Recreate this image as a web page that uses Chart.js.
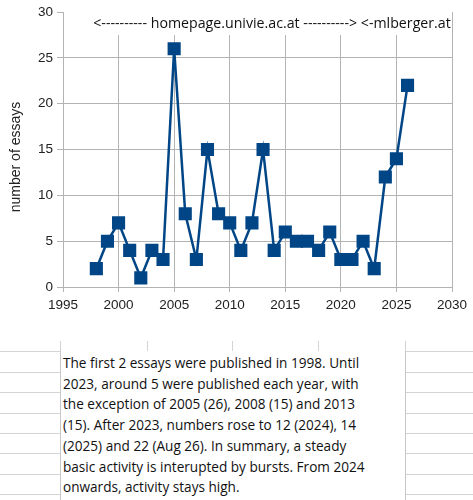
<!DOCTYPE html>
<html>
<head>
<meta charset="utf-8">
<script src="https://cdn.jsdelivr.net/npm/chart.js@4.4.1/dist/chart.umd.min.js"></script>
<style>
  html, body { margin: 0; padding: 0; background: #fff; }
  body { width: 473px; height: 500px; position: relative; overflow: hidden; }
  #chart { position: absolute; left: 0; top: 0; }
  .hl { position: absolute; left: 0; width: 473px; height: 1px; background: #d4d4d4; }
  .vl { position: absolute; top: 341px; width: 1px; height: 159px; background: #d4d4d4; }
  #note {
    position: absolute; left: 60px; top: 351px; width: 346px; height: 160px;
    background: #fff; border-left: 1px solid #c8c8c8; border-right: 1px solid #c8c8c8;
    font-family: "Open Sans", sans-serif; font-size: 13.6px; line-height: 20.7px;
    color: #111; padding: 2px 0 0 2px; box-sizing: border-box; white-space: nowrap;
  }
</style>
</head>
<body>
<canvas id="chart" width="473" height="341"></canvas>
<div id="grid"></div>
<div id="note">The first 2 essays were published in 1998. Until<br>2023, around 5 were published each year, with<br>the exception of 2005 (26), 2008 (15) and 2013<br>(15). After 2023, numbers rose to 12 (2024), 14<br>(2025) and 22 (Aug 26). In summary, a steady<br>basic activity is interupted by bursts. From 2024<br>onwards, activity stays high.</div>
<script>
// data
const years = [1998, 1999, 2000, 2001, 2002, 2003, 2004, 2005, 2006, 2007, 2008, 2009, 2010, 2011, 2012,
               2013, 2014, 2015, 2016, 2017, 2018, 2019, 2020, 2021, 2022, 2023, 2024, 2025, 2026];
const essays = [2, 5, 7, 4, 1, 4, 3, 26, 8, 3, 15, 8, 7, 4, 7,
                15, 4, 6, 5, 5, 4, 6, 3, 3, 5, 2, 12, 14, 22];
const yTitle = 'number of essays';
const banner = '<---------- homepage.univie.ac.at ----------> <-mlberger.at';

// spreadsheet cell lines under the chart
const grid = document.getElementById('grid');
[351, 372, 392, 413, 433, 453, 474, 494].forEach(function (y) {
    const d = document.createElement('div');
    d.className = 'hl';
    d.style.top = y + 'px';
    grid.appendChild(d);
});
[60, 147, 232, 318, 405].forEach(function (x) {
    const d = document.createElement('div');
    d.className = 'vl';
    d.style.left = x + 'px';
    grid.appendChild(d);
});

const gridColor = '#b3b3b3';
const textColor = '#222222';

// white label box with the url banner, and the rotated y title
const extras = {
    id: 'extras',
    beforeDatasetsDraw(chart) {
        const c = chart.ctx;
        c.save();
        c.fillStyle = '#fff';
        c.fillRect(68, 12, 382, 23);
        c.fillStyle = '#111';
        c.font = '14.2px "Open Sans"';
        c.textAlign = 'center';
        c.textBaseline = 'middle';
        c.fillText(banner, 272, 24);
        c.restore();
    },
    afterDraw(chart) {
        const c = chart.ctx;
        c.save();
        c.translate(16, 157);
        c.rotate(-Math.PI / 2);
        c.fillStyle = textColor;
        c.font = '14px "Liberation Sans"';
        c.textAlign = 'center';
        c.textBaseline = 'middle';
        c.fillText(yTitle, 0, 0);
        c.restore();
    }
};

const points = years.map((y, i) => ({ x: y, y: essays[i] }));

new Chart(document.getElementById('chart'), {
    type: 'line',
    data: {
        datasets: [{
            data: points,
            borderColor: '#004586',
            backgroundColor: '#004586',
            borderWidth: 2.5,
            pointStyle: 'rect',
            pointRadius: 7.5,
            pointHoverRadius: 7.5,
            tension: 0
        }]
    },
    options: {
        responsive: false,
        animation: false,
        layout: { padding: { left: 0, right: 21, top: 8, bottom: 0 } },
        plugins: { legend: { display: false }, tooltip: { enabled: false } },
        scales: {
            x: {
                type: 'linear',
                min: 1995,
                max: 2030,
                ticks: { stepSize: 5, color: textColor, font: { family: 'Liberation Sans', size: 13.5 }, padding: 5,
                         callback: v => String(v), maxRotation: 0 },
                grid: { color: gridColor, tickLength: 5 },
                border: { color: gridColor },
                afterFit: s => { s.height = 54; }
            },
            y: {
                min: 0,
                max: 30,
                ticks: { stepSize: 5, color: textColor, font: { family: 'Liberation Sans', size: 13.5 }, padding: 4 },
                grid: {
                    color: ctx => ctx.tick && ctx.tick.value === 30 ? 'rgba(0,0,0,0)' : gridColor,
                    tickColor: gridColor,
                    tickLength: 6
                },
                border: { color: gridColor },
                afterFit: s => { s.width = 63; }
            }
        }
    },
    plugins: [extras]
});
</script>
</body>
</html>
